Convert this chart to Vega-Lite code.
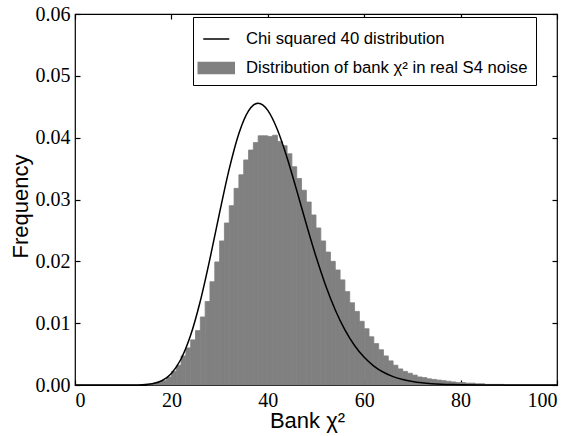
{
  "$schema": "https://vega.github.io/schema/vega-lite/v6.json",
  "width": 482,
  "height": 371,
  "autosize": {"type": "none"},
  "padding": {"left": 75, "top": 14, "right": 13, "bottom": 51},
  "background": "white",
  "datasets": {
    "hist": [
      {"lo": 15, "hi": 16, "freq": 0.0001},
      {"lo": 16, "hi": 17, "freq": 0.0002},
      {"lo": 17, "hi": 18, "freq": 0.0004},
      {"lo": 18, "hi": 19, "freq": 0.0007},
      {"lo": 19, "hi": 20, "freq": 0.0013},
      {"lo": 20, "hi": 21, "freq": 0.0022},
      {"lo": 21, "hi": 22, "freq": 0.0032},
      {"lo": 22, "hi": 23, "freq": 0.0047},
      {"lo": 23, "hi": 24, "freq": 0.0060},
      {"lo": 24, "hi": 25, "freq": 0.0073},
      {"lo": 25, "hi": 26, "freq": 0.0088},
      {"lo": 26, "hi": 27, "freq": 0.0110},
      {"lo": 27, "hi": 28, "freq": 0.0135},
      {"lo": 28, "hi": 29, "freq": 0.0167},
      {"lo": 29, "hi": 30, "freq": 0.0199},
      {"lo": 30, "hi": 31, "freq": 0.0233},
      {"lo": 31, "hi": 32, "freq": 0.0262},
      {"lo": 32, "hi": 33, "freq": 0.0290},
      {"lo": 33, "hi": 34, "freq": 0.0318},
      {"lo": 34, "hi": 35, "freq": 0.0340},
      {"lo": 35, "hi": 36, "freq": 0.0364},
      {"lo": 36, "hi": 37, "freq": 0.0380},
      {"lo": 37, "hi": 38, "freq": 0.0392},
      {"lo": 38, "hi": 39, "freq": 0.0403},
      {"lo": 39, "hi": 40, "freq": 0.0403},
      {"lo": 40, "hi": 41, "freq": 0.0402},
      {"lo": 41, "hi": 42, "freq": 0.0404},
      {"lo": 42, "hi": 43, "freq": 0.0394},
      {"lo": 43, "hi": 44, "freq": 0.0387},
      {"lo": 44, "hi": 45, "freq": 0.0374},
      {"lo": 45, "hi": 46, "freq": 0.0353},
      {"lo": 46, "hi": 47, "freq": 0.0334},
      {"lo": 47, "hi": 48, "freq": 0.0315},
      {"lo": 48, "hi": 49, "freq": 0.0296},
      {"lo": 49, "hi": 50, "freq": 0.0275},
      {"lo": 50, "hi": 51, "freq": 0.0254},
      {"lo": 51, "hi": 52, "freq": 0.0233},
      {"lo": 52, "hi": 53, "freq": 0.0215},
      {"lo": 53, "hi": 54, "freq": 0.0200},
      {"lo": 54, "hi": 55, "freq": 0.0186},
      {"lo": 55, "hi": 56, "freq": 0.0170},
      {"lo": 56, "hi": 57, "freq": 0.0151},
      {"lo": 57, "hi": 58, "freq": 0.0133},
      {"lo": 58, "hi": 59, "freq": 0.0119},
      {"lo": 59, "hi": 60, "freq": 0.0103},
      {"lo": 60, "hi": 61, "freq": 0.0091},
      {"lo": 61, "hi": 62, "freq": 0.0078},
      {"lo": 62, "hi": 63, "freq": 0.0067},
      {"lo": 63, "hi": 64, "freq": 0.0057},
      {"lo": 64, "hi": 65, "freq": 0.0047},
      {"lo": 65, "hi": 66, "freq": 0.0039},
      {"lo": 66, "hi": 67, "freq": 0.0032},
      {"lo": 67, "hi": 68, "freq": 0.0026},
      {"lo": 68, "hi": 69, "freq": 0.0022},
      {"lo": 69, "hi": 70, "freq": 0.0019},
      {"lo": 70, "hi": 71, "freq": 0.0016},
      {"lo": 71, "hi": 72, "freq": 0.0013},
      {"lo": 72, "hi": 73, "freq": 0.0012},
      {"lo": 73, "hi": 74, "freq": 0.0010},
      {"lo": 74, "hi": 75, "freq": 0.0009},
      {"lo": 75, "hi": 76, "freq": 0.0008},
      {"lo": 76, "hi": 77, "freq": 0.0007},
      {"lo": 77, "hi": 78, "freq": 0.0006},
      {"lo": 78, "hi": 79, "freq": 0.0005},
      {"lo": 79, "hi": 80, "freq": 0.0004},
      {"lo": 80, "hi": 81, "freq": 0.0004},
      {"lo": 81, "hi": 82, "freq": 0.0003},
      {"lo": 82, "hi": 83, "freq": 0.0003},
      {"lo": 83, "hi": 84, "freq": 0.0002},
      {"lo": 84, "hi": 85, "freq": 0.0002},
      {"lo": 85, "hi": 86, "freq": 0.0001},
      {"lo": 86, "hi": 87, "freq": 0.0001},
      {"lo": 87, "hi": 88, "freq": 0.0001},
      {"lo": 88, "hi": 89, "freq": 0.0001}
    ],
    "chi": [
      {"x": 0, "pdf": 0},
      {"x": 4, "pdf": 0},
      {"x": 8, "pdf": 0.00000002},
      {"x": 10, "pdf": 0.0000005},
      {"x": 12, "pdf": 0.0000062},
      {"x": 14, "pdf": 0.0000427},
      {"x": 16, "pdf": 0.000199},
      {"x": 18, "pdf": 0.000685},
      {"x": 20, "pdf": 0.001866},
      {"x": 22, "pdf": 0.004199},
      {"x": 24, "pdf": 0.008069},
      {"x": 26, "pdf": 0.013583},
      {"x": 28, "pdf": 0.020427},
      {"x": 30, "pdf": 0.027874},
      {"x": 32, "pdf": 0.03495},
      {"x": 34, "pdf": 0.040683},
      {"x": 36, "pdf": 0.044336},
      {"x": 37, "pdf": 0.045258},
      {"x": 38, "pdf": 0.045562},
      {"x": 39, "pdf": 0.045269},
      {"x": 40, "pdf": 0.044418},
      {"x": 42, "pdf": 0.041292},
      {"x": 44, "pdf": 0.036765},
      {"x": 46, "pdf": 0.031473},
      {"x": 48, "pdf": 0.025991},
      {"x": 50, "pdf": 0.020768},
      {"x": 52, "pdf": 0.016097},
      {"x": 54, "pdf": 0.012129},
      {"x": 56, "pdf": 0.008905},
      {"x": 58, "pdf": 0.006381},
      {"x": 60, "pdf": 0.004471},
      {"x": 62, "pdf": 0.003066},
      {"x": 64, "pdf": 0.002062},
      {"x": 66, "pdf": 0.001361},
      {"x": 68, "pdf": 0.000883},
      {"x": 70, "pdf": 0.000563},
      {"x": 72, "pdf": 0.000354},
      {"x": 74, "pdf": 0.000219},
      {"x": 76, "pdf": 0.000134},
      {"x": 78, "pdf": 0.0000807},
      {"x": 80, "pdf": 0.000048},
      {"x": 85, "pdf": 0.0000125},
      {"x": 90, "pdf": 0.000003},
      {"x": 95, "pdf": 0.0000007},
      {"x": 100, "pdf": 0.0000002}
    ]
  },
  "layer": [
    {
      "data": {"name": "hist"},
      "mark": {"type": "bar", "stroke": "#808080", "strokeWidth": 0.8, "opacity": 1},
      "encoding": {
        "x": {
          "field": "lo", "type": "quantitative",
          "scale": {"domain": [0, 100], "nice": false, "zero": false},
          "axis": {"orient": "bottom", "values": [0, 20, 40, 60, 80, 100], "title": "Bank χ²", "format": "d",
                   "titleX": 232, "titleY": 47, "titleBaseline": "alphabetic", "titleAlign": "center"}
        },
        "x2": {"field": "hi"},
        "y": {
          "field": "freq", "type": "quantitative",
          "scale": {"domain": [0, 0.06], "nice": false},
          "axis": {"orient": "left", "values": [0, 0.01, 0.02, 0.03, 0.04, 0.05, 0.06], "format": ".2f", "title": "Frequency",
                   "titleX": -53, "titleY": 192, "titleBaseline": "alphabetic", "titleAngle": 270, "titleAlign": "center"}
        },
        "y2": {"datum": 0},
        "color": {
          "datum": "Distribution of bank χ² in real S4 noise",
          "type": "nominal",
          "scale": {
            "domain": ["Chi squared 40 distribution", "Distribution of bank χ² in real S4 noise"],
            "range": ["black", "#808080"]
          },
          "legend": {
            "orient": "none",
            "legendX": 118,
            "legendY": 3,
            "title": null,
            "symbolSize": 676,
            "symbolStrokeWidth": 1.5,
            "rowPadding": 6,
            "padding": 8,
            "labelOffset": 17,
            "labelFont": "Liberation Sans",
            "labelFontSize": 16.7,
            "labelColor": "black",
            "labelLimit": 400,
            "strokeColor": "black",
            "fillColor": "white",
            "cornerRadius": 0,
            "encode": {
              "symbols": {
                "update": {
                  "shape": {"signal": "datum.label == 'Chi squared 40 distribution' ? 'M-0.903,0H1.097' : 'M-1.288,-0.423H1.482V0.423H-1.288Z'"},
                  "fill": {"signal": "datum.label == 'Chi squared 40 distribution' ? 'transparent' : '#808080'"},
                  "stroke": {"signal": "datum.label == 'Chi squared 40 distribution' ? 'black' : 'transparent'"},
                  "strokeWidth": {"value": 1.5},
                  "opacity": {"value": 1},
                  "size": {"value": 676}
                }
              }
            }
          }
        }
      }
    },
    {
      "data": {"name": "chi"},
      "mark": {"type": "line", "interpolate": "monotone", "strokeWidth": 1.5},
      "encoding": {
        "x": {
          "field": "x", "type": "quantitative",
          "axis": {"orient": "top", "values": [0, 20, 40, 60, 80, 100], "labels": false, "title": null}
        },
        "y": {
          "field": "pdf", "type": "quantitative",
          "axis": {"orient": "right", "values": [0, 0.01, 0.02, 0.03, 0.04, 0.05, 0.06], "labels": false, "title": null}
        },
        "color": {
          "datum": "Chi squared 40 distribution", "type": "nominal",
          "legend": {
            "orient": "none",
            "legendX": 118,
            "legendY": 3,
            "title": null,
            "symbolSize": 676,
            "symbolStrokeWidth": 1.5,
            "rowPadding": 6,
            "padding": 8,
            "labelOffset": 17,
            "labelFont": "Liberation Sans",
            "labelFontSize": 16.7,
            "labelColor": "black",
            "labelLimit": 400,
            "strokeColor": "black",
            "fillColor": "white",
            "cornerRadius": 0,
            "encode": {
              "symbols": {
                "update": {
                  "shape": {"signal": "datum.label == 'Chi squared 40 distribution' ? 'M-0.903,0H1.097' : 'M-1.288,-0.423H1.482V0.423H-1.288Z'"},
                  "fill": {"signal": "datum.label == 'Chi squared 40 distribution' ? 'transparent' : '#808080'"},
                  "stroke": {"signal": "datum.label == 'Chi squared 40 distribution' ? 'black' : 'transparent'"},
                  "strokeWidth": {"value": 1.5},
                  "opacity": {"value": 1},
                  "size": {"value": 676}
                }
              }
            }
          }
        }
      }
    }
  ],
  "config": {
    "view": {"stroke": "black", "strokeWidth": 1.2},
    "axis": {
      "domain": false,
      "grid": false,
      "ticks": true,
      "tickColor": "black",
      "tickSize": 5,
      "tickWidth": 1.2,
      "offset": -5,
      "labelFont": "Liberation Serif",
      "labelFontSize": 20,
      "labelColor": "black",
      "labelPadding": 5,
      "titleFont": "Liberation Sans",
      "titleFontSize": 22,
      "titleFontWeight": "normal",
      "titleColor": "black"
    }
  }
}
